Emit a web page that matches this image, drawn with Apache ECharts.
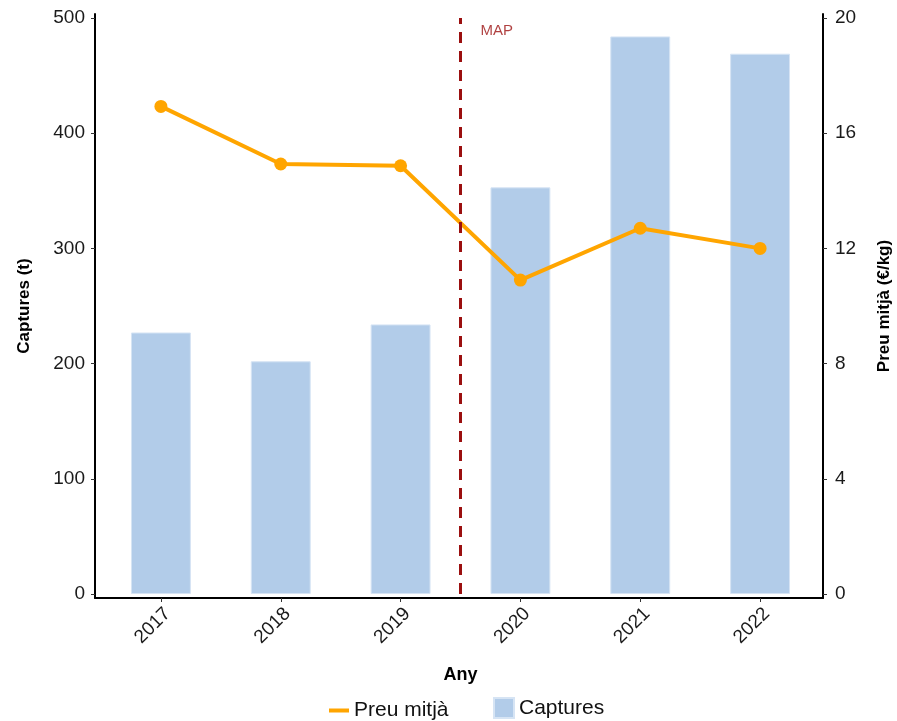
<!DOCTYPE html>
<html><head><meta charset="utf-8">
<script src="https://cdn.jsdelivr.net/npm/echarts@6/dist/echarts.min.js"></script>
<style>html,body{margin:0;padding:0;background:#fff}#c{width:897px;height:721px}</style>
</head><body><div id="c"></div>
<script>
const years = ['2017','2018','2019','2020','2021','2022'];
const captures = [227, 202, 234, 353, 484, 469];
const preu = [16.93, 14.93, 14.87, 10.90, 12.70, 12.00];
const leftTicks = [0, 100, 200, 300, 400, 500];
const rightTicks = [0, 4, 8, 12, 16, 20];
const mapYear = '2020';
const mapLabel = 'MAP';
const mapPos = years.indexOf(mapYear) - 0.5;

const FONT = 'Liberation Sans, Arial, sans-serif';
const chart = echarts.init(document.getElementById('c'));
const lineOnly = {show: true, onZero: false, lineStyle: {color: '#000', width: 2}};
const noLine = {show: false, onZero: false};
chart.setOption({
  animation: false,
  textStyle: {fontFamily: FONT},
  grid: [
    {left: 101, right: 77, top: 18, bottom: 127, outerBoundsMode: 'none', containLabel: false},
    {left: 95, right: 74, top: 14, bottom: 123, outerBoundsMode: 'none', containLabel: false}
  ],
  legend: [
    {data: [{name: 'Preu mitjà', icon: 'rect'}], left: 324, top: 695, itemWidth: 20, itemHeight: 4, itemGap: 6,
     textStyle: {fontSize: 21, color: '#111', fontFamily: FONT}},
    {data: [{name: 'Captures', icon: 'rect'}], left: 488, top: 692, itemWidth: 20, itemHeight: 20, itemGap: 6,
     textStyle: {fontSize: 21, color: '#111', fontFamily: FONT}}
  ],
  xAxis: [
    {
      type: 'category', data: years, boundaryGap: true, offset: 4, gridIndex: 0,
      axisLine: noLine,
      splitLine: {show: false},
      axisTick: {show: true, length: 4, alignWithLabel: true, lineStyle: {color: '#333'}},
      axisLabel: {rotate: 45, fontSize: 19, color: '#1a1a1a', margin: 6, verticalAlign: 'top', fontFamily: FONT},
      name: 'Any', nameLocation: 'middle', nameGap: 68,
      nameTextStyle: {fontSize: 18, fontWeight: 'bold', color: '#000', fontFamily: FONT}
    },
    {type: 'value', min: -0.5, max: 5.5, show: false, gridIndex: 0, axisLine: noLine},
    {type: 'value', gridIndex: 1, min: 0, max: 1, axisLine: lineOnly, axisTick: {show: false},
     axisLabel: {show: false}, splitLine: {show: false}}
  ],
  yAxis: [
    {
      type: 'value', min: leftTicks[0], max: leftTicks[leftTicks.length-1], interval: 100, offset: 6,
      position: 'left', gridIndex: 0, axisLine: noLine, splitLine: {show: false},
      axisTick: {show: true, length: 4, lineStyle: {color: '#333'}},
      axisLabel: {fontSize: 19, color: '#1a1a1a', margin: 10, fontFamily: FONT},
      name: 'Captures (t)', nameLocation: 'middle', nameGap: 62, nameRotate: 90,
      nameTextStyle: {fontSize: 17, fontWeight: 'bold', color: '#000', fontFamily: FONT}
    },
    {
      type: 'value', min: rightTicks[0], max: rightTicks[rightTicks.length-1], interval: 4, offset: 3,
      position: 'right', gridIndex: 0, axisLine: noLine, splitLine: {show: false},
      axisTick: {show: true, length: 4, lineStyle: {color: '#333'}},
      axisLabel: {fontSize: 19, color: '#1a1a1a', margin: 12, fontFamily: FONT},
      name: 'Preu mitjà (€/kg)', nameLocation: 'middle', nameGap: 53, nameRotate: 90,
      nameTextStyle: {fontSize: 17, fontWeight: 'bold', color: '#000', fontFamily: FONT}
    },
    {type: 'value', gridIndex: 1, position: 'left', min: 0, max: 1, axisLine: lineOnly,
     axisTick: {show: false}, axisLabel: {show: false}, splitLine: {show: false}},
    {type: 'value', gridIndex: 1, position: 'right', min: 0, max: 1, axisLine: lineOnly,
     axisTick: {show: false}, axisLabel: {show: false}, splitLine: {show: false}}
  ],
  series: [
    {name: 'Captures', type: 'bar', data: captures, xAxisIndex: 0, yAxisIndex: 0, barWidth: '50%',
     itemStyle: {color: '#b2cce9', borderColor: '#d6e4f4', borderWidth: 1}, z: 1},
    {name: 'MAPline', type: 'line', xAxisIndex: 1, yAxisIndex: 0, data: [],
     markLine: {symbol: 'none', silent: true, label: {show: false},
       lineStyle: {color: '#9b0f0f', type: [11, 8], width: 3},
       data: [{xAxis: mapPos}]}, z: 2},
    {name: 'MAPtext', type: 'scatter', xAxisIndex: 1, yAxisIndex: 0, symbolSize: 0,
     data: [[mapPos, 489]],
     label: {show: true, formatter: mapLabel, position: 'right', distance: 20, fontSize: 15, color: '#9b0f0f', fontFamily: FONT}, z: 3},
    {name: 'Preu mitjà', type: 'line', data: preu, xAxisIndex: 0, yAxisIndex: 1,
     symbol: 'circle', symbolSize: 13, lineStyle: {color: '#ffa500', width: 4},
     itemStyle: {color: '#ffa500'}, z: 4}
  ]
});
</script></body></html>
